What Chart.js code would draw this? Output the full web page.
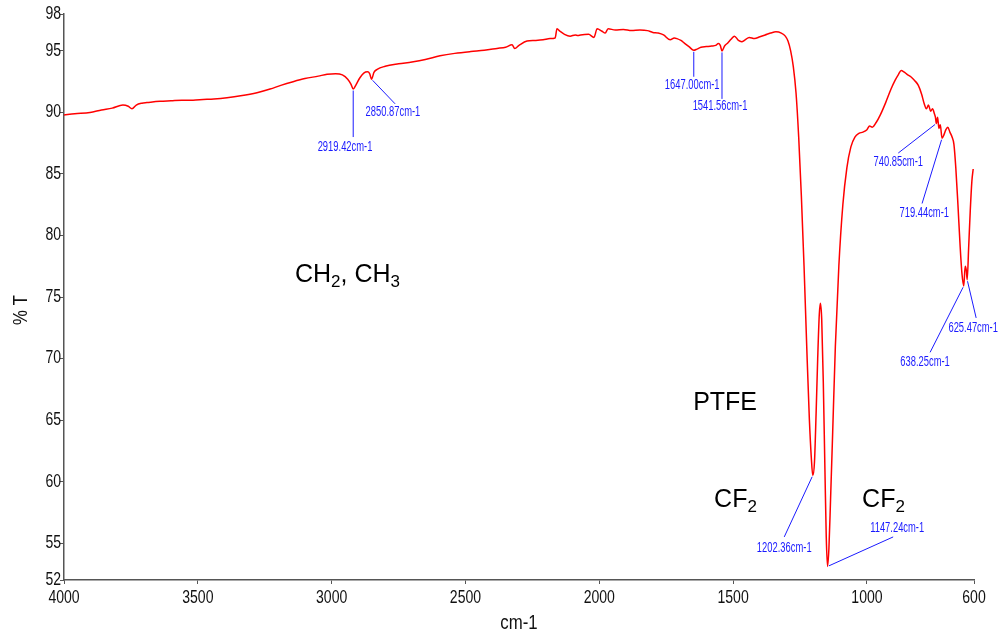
<!doctype html>
<html>

<head>
    <meta charset="utf-8" />
    <title>FTIR spectrum</title>
    <script src="https://cdn.jsdelivr.net/npm/chart.js@4.4.1/dist/chart.umd.min.js"></script>
    <style>
        body { margin: 0; background: #fff; }
        canvas { display: block; }
    </style>
</head>

<body>
    <canvas id="spectrum" width="1005" height="641"></canvas>
    <script>
        // wavenumber (cm-1) and transmittance (%T) of the measured spectrum
        var wavenumber = [
            4000, 3960, 3903, 3860, 3820, 3780, 3760, 3746, 3730, 3709, 3690, 3670, 3641, 3600, 3560, 3518,
            3480, 3440, 3391, 3340, 3279, 3230, 3190, 3144, 3100, 3050, 3017, 2985, 2960, 2940, 2928, 2919.42,
            2910, 2895, 2880, 2866, 2858, 2850.87, 2842, 2830, 2800, 2750, 2700, 2650, 2595, 2540, 2480, 2430,
            2382, 2350, 2326, 2316, 2300, 2270, 2240, 2210, 2184, 2165, 2158, 2147, 2130, 2109, 2090, 2080,
            2070, 2040, 2020, 2008, 1990, 1978, 1967, 1940, 1910, 1880, 1848, 1820, 1800, 1780, 1760, 1735,
            1720, 1710, 1695, 1680, 1665, 1647.00, 1635, 1620, 1600, 1580, 1565, 1555, 1548, 1541.56, 1532, 1520,
            1508, 1495, 1480, 1468, 1455, 1440, 1420, 1400, 1380, 1360, 1340, 1320, 1305, 1295, 1285, 1275,
            1265, 1255, 1245, 1235, 1225, 1215, 1208, 1202.36, 1196, 1190, 1184, 1178, 1174, 1169, 1163, 1157,
            1152, 1147.24, 1142, 1136, 1128, 1118, 1105, 1090, 1075, 1060, 1045, 1030, 1015, 1000, 990, 980,
            965, 950, 930, 910, 895, 882, 872, 862, 850, 836, 822, 808, 796, 786, 778, 770,
            762, 755, 748, 744, 740.85, 736, 731, 726, 719.44, 712, 705, 698, 690, 682, 675, 668,
            660, 652, 645, 638.25, 633, 629, 625.47, 620, 614, 608, 603
        ];
        var transmittance = [
            89.8, 89.9, 90.0, 90.2, 90.35, 90.6, 90.5, 90.3, 90.6, 90.75, 90.8, 90.85, 90.9, 90.95, 91.0, 91.0,
            91.05, 91.1, 91.2, 91.35, 91.6, 91.9, 92.2, 92.5, 92.75, 92.95, 93.1, 93.15, 93.05, 92.7, 92.3, 91.9,
            92.2, 92.8, 93.2, 93.3, 93.15, 92.7, 93.25, 93.5, 93.75, 93.95, 94.1, 94.3, 94.6, 94.8, 94.95, 95.05,
            95.2, 95.3, 95.5, 95.2, 95.45, 95.8, 95.85, 95.9, 96.0, 96.05, 96.8, 96.6, 96.35, 96.2, 96.3, 96.25,
            96.3, 96.35, 96.1, 96.8, 96.6, 96.45, 96.8, 96.7, 96.75, 96.65, 96.7, 96.65, 96.5, 96.45, 96.3, 95.9,
            96.05, 96.0, 95.85, 95.6, 95.35, 95.05, 95.15, 95.3, 95.35, 95.4, 95.45, 95.6, 95.45, 95.0, 95.4, 95.65,
            95.95, 96.2, 95.85, 95.75, 95.9, 96.1, 96.0, 96.15, 96.3, 96.45, 96.55, 96.45, 96.2, 95.8, 95.0, 93.7,
            91.6, 88.0, 83.2, 77.5, 71.0, 65.0, 62.0, 60.5, 61.6, 65.5, 70.0, 73.6, 74.5, 73.2, 68.0, 61.0,
            55.5, 53.1, 54.6, 58.5, 64.0, 71.0, 77.5, 82.5, 85.5, 87.2, 88.0, 88.3, 88.4, 88.6, 88.9, 88.8,
            89.2, 89.8, 90.8, 91.9, 92.6, 93.1, 93.4, 93.3, 93.1, 92.9, 92.6, 92.2, 91.5, 90.7, 90.3, 90.6,
            90.1, 90.3, 89.9, 89.6, 89.1, 89.6, 88.7, 89.0, 87.9, 88.2, 88.6, 88.8, 88.4, 88.0, 87.4, 85.5,
            82.5, 79.2, 76.9, 75.9, 77.5, 77.2, 76.4, 79.0, 82.0, 84.4, 85.4
        ];

        // axis ticks
        var xTicks = [4000, 3500, 3000, 2500, 2000, 1500, 1000, 600];
        var yTicks = [52, 55, 60, 65, 70, 75, 80, 85, 90, 95, 98];

        // labelled bands: wavenumber, label centre and leader end (data units)
        var peakWn = [2919.42, 2850.87, 1647.00, 1541.56, 1202.36, 1147.24, 740.85, 719.44, 638.25, 625.47];
        var peakLabelX = [2950, 2771, 1653, 1549, 1309, 887, 883, 786, 783, 603];
        var peakLabelY = [87.2, 90.05, 92.2, 90.5, 54.6, 56.2, 86.0, 81.8, 69.7, 72.5];
        var peakLineX = [2919.42, 2763, 1647.00, 1541.56, 1309, 902, 883, 794, 764, 592];
        var peakLineY = [88.0, 90.7, 92.9, 91.1, 55.5, 55.5, 86.7, 82.6, 70.5, 73.3];

        // band assignments: pieces of [text, subscript], x, y in data units
        var groupText = [
            [["CH", "2"], [", CH", "3"]],
            [["PTFE", ""]],
            [["CF", "2"]],
            [["CF", "2"]]
        ];
        var groupX = [3137, 1530, 1571, 1018];
        var groupY = [76.8, 66.4, 58.5, 58.5];
        var groupAlign = ["left", "center", "left", "left"];

        var points = wavenumber.map(function (w, i) { return { x: w, y: transmittance[i] }; });

        // condensed text: regular face squeezed horizontally
        function narrowText(ctx, text, x, y, size, squeeze, align, baseline) {
            ctx.save();
            ctx.translate(x, y);
            ctx.scale(squeeze, 1);
            ctx.font = size + 'px "Liberation Sans", Arial, sans-serif';
            ctx.textAlign = align;
            ctx.textBaseline = baseline;
            ctx.fillText(text, 0, 0);
            ctx.restore();
        }

        var annotations = {
            id: 'annotations',
            afterDraw: function (chart) {
                var ctx = chart.ctx;
                var xs = chart.scales.x, ys = chart.scales.y;
                ctx.save();

                // tick labels
                ctx.fillStyle = '#111';
                xTicks.forEach(function (v) {
                    narrowText(ctx, String(v), xs.getPixelForValue(v), 589, 18, 0.78, 'center', 'top');
                });
                yTicks.forEach(function (v) {
                    narrowText(ctx, String(v), 61, ys.getPixelForValue(v), 18, 0.78, 'right', 'middle');
                });

                // peak labels with leader lines
                ctx.strokeStyle = '#1a1aff';
                ctx.fillStyle = '#1a1aff';
                ctx.lineWidth = 1;
                peakWn.forEach(function (w, i) {
                    var t = transmittance[wavenumber.indexOf(w)];
                    var px = xs.getPixelForValue(w), py = ys.getPixelForValue(t);
                    var ex = xs.getPixelForValue(peakLineX[i]), ey = ys.getPixelForValue(peakLineY[i]);
                    var dx = ex - px, dy = ey - py, len = Math.sqrt(dx * dx + dy * dy);
                    ctx.beginPath();
                    ctx.moveTo(px + dx / len * 1.5, py + dy / len * 1.5);
                    ctx.lineTo(ex, ey);
                    ctx.stroke();
                    narrowText(ctx, w.toFixed(2) + 'cm-1', xs.getPixelForValue(peakLabelX[i]),
                        ys.getPixelForValue(peakLabelY[i]), 14, 0.67, 'center', 'middle');
                });

                // group assignments with subscripts
                ctx.fillStyle = '#000';
                ctx.textBaseline = 'middle';
                groupText.forEach(function (parts, i) {
                    var main = '25px "Liberation Sans", Arial, sans-serif';
                    var sub = '17px "Liberation Sans", Arial, sans-serif';
                    var width = 0;
                    parts.forEach(function (p) {
                        ctx.font = main; width += ctx.measureText(p[0]).width;
                        ctx.font = sub; width += ctx.measureText(p[1]).width;
                    });
                    var x = xs.getPixelForValue(groupX[i]);
                    if (groupAlign[i] === 'center') x -= width / 2;
                    var y = ys.getPixelForValue(groupY[i]);
                    ctx.textAlign = 'left';
                    parts.forEach(function (p) {
                        ctx.font = main; ctx.fillText(p[0], x, y); x += ctx.measureText(p[0]).width;
                        ctx.font = sub; ctx.fillText(p[1], x, y + 7); x += ctx.measureText(p[1]).width;
                    });
                });

                // axis titles
                ctx.fillStyle = '#111';
                narrowText(ctx, 'cm-1', (chart.chartArea.left + chart.chartArea.right) / 2, 623, 21, 0.8, 'center', 'middle');
                ctx.translate(21, 310);
                ctx.rotate(-Math.PI / 2);
                narrowText(ctx, '% T', 0, 0, 21, 0.8, 'center', 'middle');
                ctx.restore();
            }
        };

        var hiddenTicks = { color: 'rgba(0,0,0,0)', padding: 1, maxRotation: 0, autoSkip: false };

        var chart = new Chart(document.getElementById('spectrum'), {
            type: 'line',
            data: {
                datasets: [{
                    data: points,
                    borderColor: '#ff0000',
                    borderWidth: 1.5,
                    pointRadius: 0,
                    fill: false,
                    cubicInterpolationMode: 'monotone'
                }]
            },
            options: {
                responsive: false,
                animation: false,
                layout: { padding: { top: 14, right: 31, left: 0, bottom: 0 } },
                plugins: { legend: { display: false }, tooltip: { enabled: false } },
                scales: {
                    x: {
                        type: 'linear',
                        reverse: true,
                        min: 600,
                        max: 4000,
                        afterBuildTicks: function (s) { s.ticks = xTicks.map(function (v) { return { value: v }; }); },
                        afterFit: function (s) { s.height = 61; },
                        grid: { drawOnChartArea: false, tickLength: 4, color: '#555' },
                        border: { color: '#555', width: 1.5 },
                        ticks: hiddenTicks
                    },
                    y: {
                        min: 52,
                        max: 98,
                        afterBuildTicks: function (s) { s.ticks = yTicks.map(function (v) { return { value: v }; }); },
                        afterFit: function (s) { s.width = 64; },
                        grid: { drawOnChartArea: false, tickLength: 4, color: '#555' },
                        border: { color: '#555', width: 1.5 },
                        ticks: hiddenTicks
                    }
                }
            },
            plugins: [annotations]
        });
    </script>
</body>

</html>
